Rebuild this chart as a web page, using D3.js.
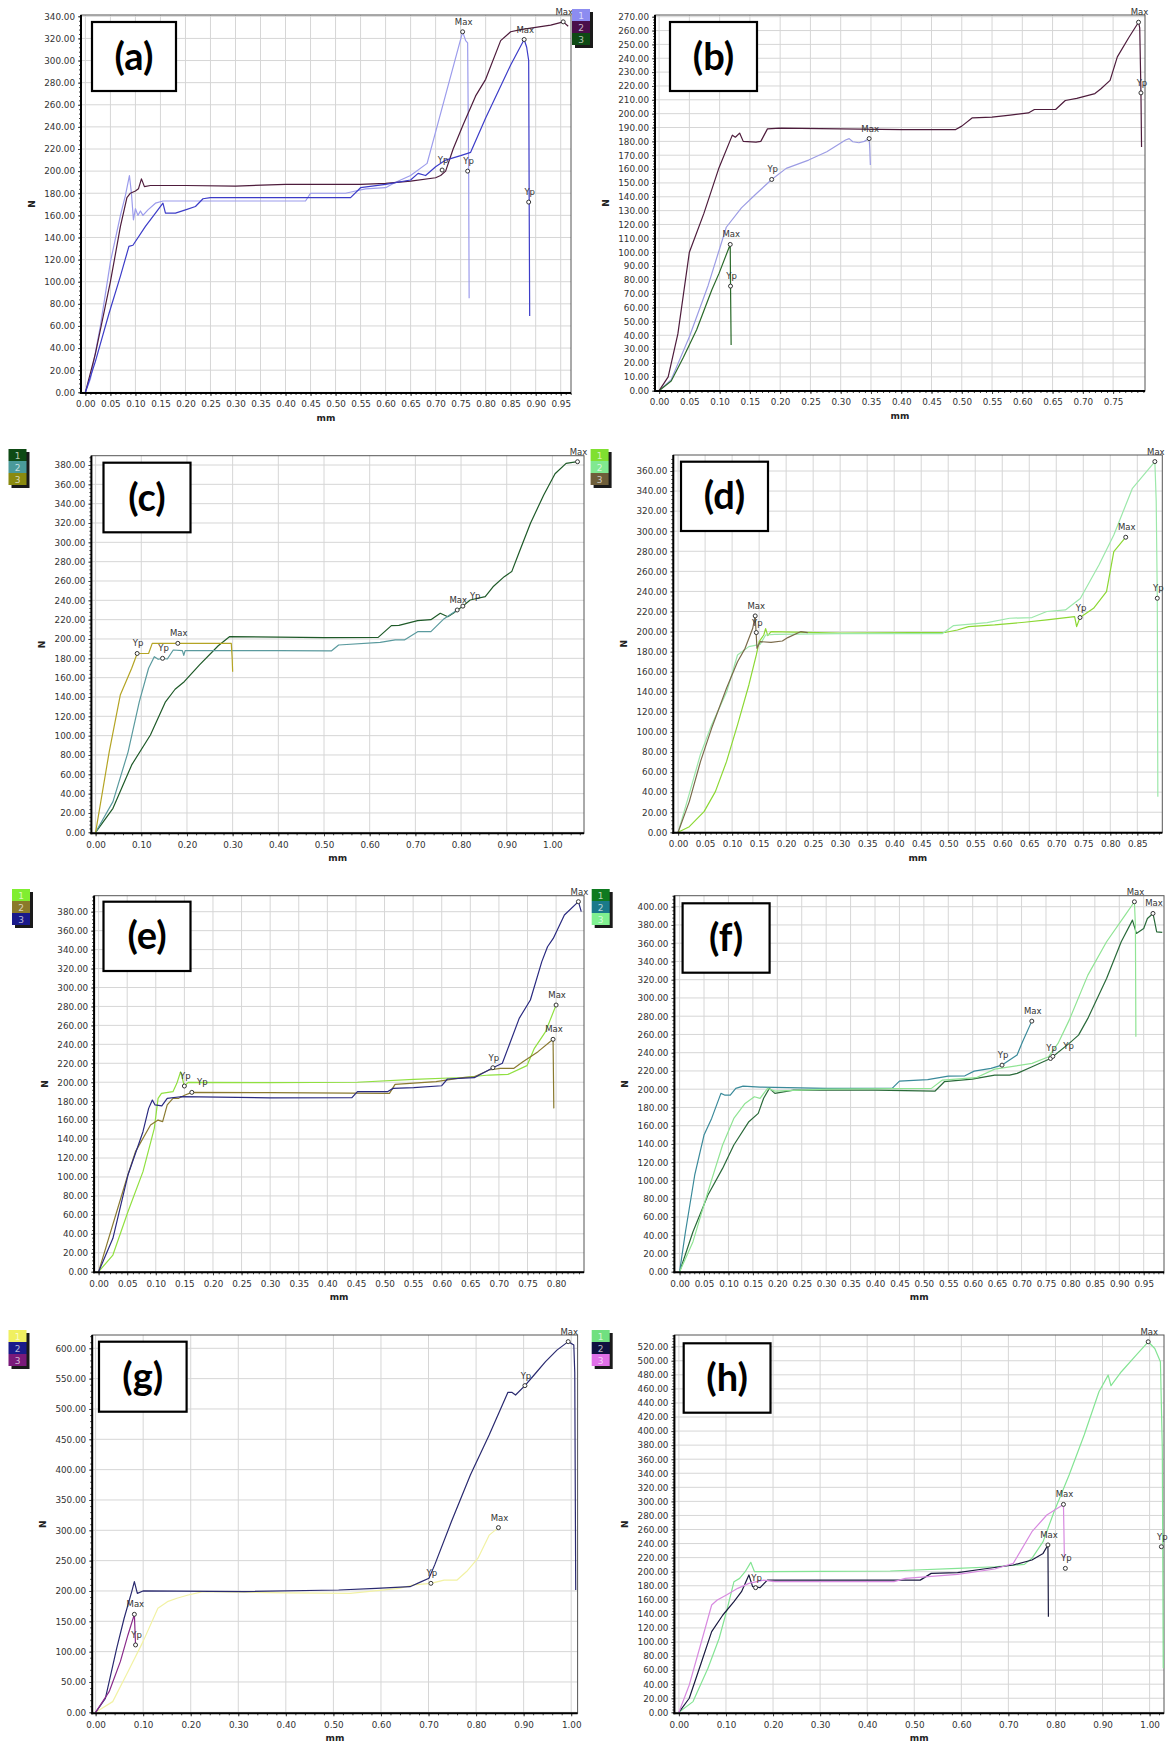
<!DOCTYPE html>
<html>
<head>
<meta charset="utf-8">
<script src="https://cdnjs.cloudflare.com/ajax/libs/d3/7.8.5/d3.min.js"></script>
<style>
  body { margin: 0; background: #fff; }
  svg text { font-family: "DejaVu Sans", Verdana, sans-serif; }
</style>
</head>
<body>
<script>
// ---- curve data: [mm, N] ----
// (a)
var a1 = [[0,0],[0.01,12],[0.03,60],[0.05,118],[0.07,160],[0.08,178],[0.088,196],[0.092,180],[0.096,156],[0.1,166],[0.105,160],[0.11,164],[0.115,160],[0.125,165],[0.14,171],[0.155,173],[0.2,173],[0.3,173],[0.44,173],[0.45,180],[0.52,180],[0.54,182],[0.56,184],[0.6,185],[0.62,190],[0.65,196],[0.683,207],[0.717,264],[0.754,326],[0.76,318],[0.764,316],[0.766,200],[0.767,85]];
var a2 = [[0,0],[0.02,35],[0.05,100],[0.07,150],[0.083,176],[0.09,180],[0.1,182],[0.106,184],[0.112,193],[0.118,186],[0.13,187],[0.2,187],[0.3,186.5],[0.4,188],[0.5,188],[0.55,188],[0.6,189],[0.65,191],[0.7,194],[0.71,196],[0.72,200],[0.735,220],[0.755,242],[0.78,268],[0.8,283],[0.83,318],[0.85,326],[0.87,328],[0.9,330],[0.93,332],[0.955,335],[0.965,331]];
var a3 = [[0,0],[0.02,28],[0.047,71],[0.07,105],[0.087,132],[0.095,133],[0.12,150],[0.14,162],[0.155,171],[0.16,162],[0.18,162],[0.2,165],[0.22,168],[0.235,175],[0.25,176],[0.4,176],[0.53,176],[0.55,185],[0.6,188],[0.65,192],[0.665,198],[0.68,196],[0.7,204],[0.72,210],[0.75,214],[0.77,217],[0.8,248],[0.85,296],[0.877,319],[0.882,312],[0.886,300],[0.887,172],[0.888,69]];
var aMarks = [[0.754,326,"Max"],[0.713,201,"Yp"],[0.764,200,"Yp"],[0.877,319,"Max"],[0.886,172,"Yp"],[0.955,335,"Max"]];

// (b)
var b1 = [[0,0],[0.02,8],[0.05,39],[0.081,76],[0.111,118],[0.136,132],[0.16,142],[0.186,152.5],[0.21,160.5],[0.247,166.5],[0.277,172.5],[0.308,181],[0.314,182],[0.32,179.7],[0.33,179],[0.339,180],[0.347,182],[0.348,175],[0.349,163]];
var b2 = [[0,0],[0.015,10],[0.031,41],[0.05,100],[0.074,128],[0.099,161],[0.121,184.5],[0.126,183],[0.133,186],[0.139,180],[0.16,179.5],[0.168,180],[0.179,189],[0.2,189.5],[0.3,189],[0.4,188.5],[0.49,188.5],[0.5,191],[0.5175,197],[0.55,197.5],[0.58,199],[0.61,200.5],[0.62,203],[0.655,203],[0.671,209.5],[0.69,211],[0.72,214.5],[0.73,218],[0.745,224],[0.757,241],[0.776,255],[0.792,266],[0.794,262],[0.796,215],[0.797,176]];
var b3 = [[0,0],[0.02,7],[0.04,24],[0.062,44],[0.087,72.7],[0.099,84.7],[0.1175,105.6],[0.118,75.5],[0.119,33]];
var bMarks = [[0.1175,105.6,"Max"],[0.118,75.5,"Yp"],[0.186,152.5,"Yp"],[0.347,182,"Max"],[0.792,266,"Max"],[0.796,215,"Yp"]];

// (c)
var c1 = [[0,0],[0.038,24.8],[0.079,69.7],[0.12,100.7],[0.153,135],[0.174,148],[0.194,155.8],[0.227,173],[0.2685,193],[0.293,202.4],[0.4,202],[0.5,201.5],[0.6186,201.7],[0.6475,213.8],[0.664,214],[0.705,219],[0.734,220],[0.7545,226.6],[0.771,223],[0.783,226.6],[0.804,234],[0.82,240.3],[0.853,243.8],[0.87,254],[0.8946,264.5],[0.911,269.7],[0.9275,290],[0.952,319.7],[0.981,349],[1.0058,371],[1.03,381.7],[1.055,383.4]];
var c2 = [[0,0],[0.038,31.7],[0.071,83],[0.0956,135],[0.116,169.7],[0.1285,181.7],[0.137,179],[0.1466,180],[0.157,179.3],[0.17,188.6],[0.19,188],[0.193,183],[0.196,188],[0.3,188],[0.4,188],[0.516,187.6],[0.532,193.8],[0.623,196.5],[0.656,199],[0.676,199],[0.705,207.6],[0.734,207.6],[0.763,221],[0.7916,230]];
var c3 = [[0,0],[0.0297,83],[0.054,142],[0.079,169.7],[0.091,185],[0.116,185],[0.124,195.5],[0.2,195.5],[0.297,195.5],[0.299,180],[0.3,166]];
var cMarks = [[0.091,185,"Yp"],[0.1466,180,"Yp"],[0.18,195.5,"Max"],[0.7916,230,"Max"],[0.804,234,"Yp"],[1.055,383.4,"Max"]];

// (d)
var d1 = [[0,0],[0.0207,5.6],[0.048,20.6],[0.069,40.5],[0.0896,70.4],[0.11,107],[0.131,146.8],[0.1448,176.7],[0.15,190],[0.1586,196.6],[0.162,203],[0.166,196],[0.172,200],[0.3,198.5],[0.496,199.3],[0.517,201.6],[0.5377,205],[0.586,206.6],[0.641,209.3],[0.6825,211.6],[0.734,214.9],[0.7377,205],[0.744,214],[0.769,223.2],[0.793,239.8],[0.8065,279.7],[0.8286,294]];
var d2 = [[0,0],[0.02,37],[0.041,77],[0.062,107],[0.09,140],[0.11,176.7],[0.131,185],[0.152,187.3],[0.162,196.6],[0.179,197.3],[0.3,198],[0.4894,198],[0.51,206],[0.572,209],[0.6135,213.3],[0.655,214],[0.6825,220],[0.717,221.6],[0.7445,233],[0.779,266.4],[0.8065,296.3],[0.841,342.8],[0.8825,369.4],[0.885,330],[0.887,233],[0.888,35.5]];
var d3s = [[0,0],[0.0207,30.6],[0.0414,70.4],[0.062,103.6],[0.0896,143.5],[0.11,170],[0.124,183.3],[0.138,203],[0.1427,215.6],[0.146,183.3],[0.152,190],[0.172,189.3],[0.193,190.6],[0.203,194],[0.2275,200],[0.24,199]];
var dMarks = [[0.1427,215.6,"Max"],[0.1448,199,"Yp"],[0.744,214,"Yp"],[0.8286,294,"Max"],[0.8825,369.4,"Max"],[0.887,233.2,"Yp"]];

// (e)
var e1 = [[0,0],[0.025,17.6],[0.0513,63.3],[0.0776,105.6],[0.0974,151.3],[0.104,183],[0.11,188.2],[0.13,190],[0.1368,198.8],[0.1434,211],[0.15,196],[0.1566,199.9],[0.3,199.5],[0.4526,200],[0.551,203],[0.637,205],[0.683,207.6],[0.7158,208.3],[0.749,217.5],[0.762,235.8],[0.7816,253.4],[0.8,281.5]];
var e2 = [[0,0],[0.05,100],[0.0645,126.7],[0.0908,154.8],[0.104,160],[0.112,158.4],[0.12,176],[0.13,183],[0.14,183],[0.1513,186.5],[0.163,189.3],[0.3,189],[0.5086,188.2],[0.5184,197.7],[0.59,200.6],[0.637,204.8],[0.657,205.8],[0.683,212.9],[0.7026,214.6],[0.7257,214.6],[0.742,221.7],[0.7684,232.3],[0.7947,245.3],[0.796,172.4]];
var e3 = [[0,0],[0.025,35.2],[0.0513,102],[0.0776,147.8],[0.0875,172.4],[0.094,181.2],[0.0987,176],[0.1105,175],[0.12,183],[0.143,184.7],[0.3,183.5],[0.443,183.7],[0.4526,190],[0.505,190],[0.515,193.5],[0.551,194.2],[0.6,196.3],[0.61,203.4],[0.657,204.8],[0.6895,215.3],[0.706,220],[0.7355,267.4],[0.755,286.8],[0.775,327.3],[0.785,343],[0.795,351.8],[0.8145,376.5],[0.839,390.6],[0.844,380]];
var eMarks = [[0.15,196,"Yp"],[0.163,189.3,"Yp"],[0.6895,215.3,"Yp"],[0.7947,245.3,"Max"],[0.8,281.5,"Max"],[0.839,390.6,"Max"]];

// (f)
var f1 = [[0,0],[0.0274,43.8],[0.058,84],[0.088,113.2],[0.111,138.8],[0.1418,164.4],[0.161,173.5],[0.172,190],[0.1837,200.9],[0.195,195.4],[0.2333,199],[0.4,199],[0.523,198],[0.542,208.2],[0.599,211.1],[0.645,215.5],[0.6755,215.5],[0.691,217.3],[0.7215,224.6],[0.7593,233.7],[0.7975,250.2],[0.8166,259.3],[0.8357,277.6],[0.874,321.4],[0.904,361.6],[0.927,385.3],[0.935,370.7],[0.95,376.2],[0.9576,387.1],[0.969,392.6],[0.9766,372.5],[0.988,371.8]];
var f2 = [[0,0],[0.012,43.8],[0.031,106],[0.05,149.7],[0.0656,168],[0.0846,195.4],[0.092,193.6],[0.1037,193.6],[0.115,200.9],[0.13,203.4],[0.1647,202.3],[0.3,201],[0.435,200.9],[0.45,208.9],[0.5078,210.4],[0.55,214.4],[0.584,214.7],[0.603,219.8],[0.6374,222.8],[0.66,226.4],[0.6908,237.4],[0.702,252],[0.721,274.6]];
var f3 = [[0,0],[0.0274,32.9],[0.058,87.7],[0.088,138.8],[0.111,168],[0.134,184.4],[0.153,191.7],[0.1647,189.9],[0.18,200.9],[0.195,197.9],[0.3,200],[0.5155,200.9],[0.538,210],[0.607,212.6],[0.645,222],[0.7215,228.3],[0.7555,235.6],[0.7746,250.2],[0.7975,275.7],[0.8357,325],[0.874,361.6],[0.912,390.8],[0.931,405.4],[0.933,380],[0.934,257.5]];
var fMarks = [[0.66,226.4,"Yp"],[0.721,274.6,"Max"],[0.7593,233.7,"Yp"],[0.764,236,"Yp"],[0.931,405.4,"Max"],[0.969,392.6,"Max"]];

// (g)
var g1 = [[0,0],[0.036,17.6],[0.068,67],[0.0997,116.5],[0.131,171.4],[0.151,182.4],[0.171,188],[0.1946,193.4],[0.226,199],[0.4,197],[0.535,196],[0.6377,204.4],[0.669,210],[0.705,212.6],[0.7326,218],[0.76,218],[0.78,232],[0.804,254],[0.8275,292],[0.847,304.4]];
var g2 = [[0,0],[0.0206,23],[0.0443,105.5],[0.06,155],[0.076,199],[0.0815,215.4],[0.0878,196],[0.0997,200],[0.313,199],[0.511,201.6],[0.59,204.4],[0.661,207],[0.685,215.4],[0.701,221],[0.713,243],[0.748,314],[0.788,391],[0.8275,457],[0.867,527.5],[0.875,527.5],[0.883,523],[0.9027,538.5],[0.922,556],[0.946,578],[0.97,597],[0.9937,611],[1.0055,605.5],[1.0075,560],[1.0095,201.6]];
var g3 = [[0,0],[0.0285,34],[0.052,83.5],[0.068,127.5],[0.0815,161.5],[0.084,111]];
var gMarks = [[0.0815,161.5,"Max"],[0.084,111,"Yp"],[0.705,212.6,"Yp"],[0.847,304.4,"Max"],[0.9027,538.5,"Yp"],[0.9937,611,"Max"]];

// (h)
var h1 = [[0,0],[0.03,15.2],[0.0617,62.6],[0.0854,105],[0.101,143],[0.117,185.8],[0.129,190.5],[0.1408,200],[0.1527,213.3],[0.1606,200],[0.3,200.5],[0.449,201],[0.592,204.7],[0.671,207],[0.734,210.4],[0.75,219],[0.7737,242.7],[0.797,285.3],[0.829,337.5],[0.861,394.4],[0.8924,456],[0.912,479.6],[0.918,464.5],[0.94,484.4],[0.9715,508],[0.997,527],[1.011,517.5],[1.023,498.6],[1.027,375],[1.029,62.6]];
var h2 = [[0,0],[0.022,20],[0.0459,67.3],[0.0696,114.7],[0.0934,138.4],[0.117,157.3],[0.133,171.6],[0.1487,195.3],[0.1566,178.7],[0.1725,177.3],[0.188,188],[0.3,188],[0.5127,188],[0.536,197.6],[0.592,198.6],[0.647,203.8],[0.7104,209.5],[0.75,216.6],[0.7737,226],[0.784,238],[0.785,136]];
var h3 = [[0,0],[0.022,38.9],[0.0459,95.7],[0.0696,152.6],[0.0815,159.7],[0.101,166.8],[0.125,176.3],[0.1487,183.4],[0.18,188],[0.204,185.8],[0.457,185.8],[0.481,190.5],[0.592,196.2],[0.671,203.8],[0.7104,211.8],[0.75,256.9],[0.7816,280.6],[0.817,295.7],[0.819,219]];
var hMarks = [[0.163,177.3,"Yp"],[0.784,238,"Max"],[0.817,295.7,"Max"],[0.821,204.7,"Yp"],[0.997,527,"Max"],[1.025,235.5,"Yp"]];

// ---- tick values ----
var xTicks05 = d3.range(0, 20).map(function(i) { return i * 0.05; });
var xTicks10 = d3.range(0, 11).map(function(i) { return i * 0.1; });
function yTicksUpTo(max, step) {
  return d3.range(0, Math.round(max / step) + 1).map(function(i) { return i * step; });
}
function upTo(ticks, max) {
  return ticks.filter(function(d) { return d <= max + 0.001; });
}

// ---- panel layout ----
var panels = [
  {tag: "(a)", box: [81, 15, 571, 393], xr: [85.4, 560.7], xMax: 0.95, xTicks: upTo(xTicks05, 0.95), xStep: 0.05,
   yr: [392.3, 16.3], yMax: 340, yTicks: yTicksUpTo(340, 20), yStep: 20,
   series: [a1, a2, a3], colors: ["#9c9cec", "#4e1c3c", "#3c3cc8"], marks: aMarks,
   tagBox: [92, 22, 84, 69], legend: [572, 9], legendColors: ["#8c8cf0", "#4a0e4a", "#0e4a14"]},
  {tag: "(b)", box: [655, 15, 1145, 391], xr: [659.1, 1113.1], xMax: 0.75, xTicks: upTo(xTicks05, 0.75), xStep: 0.05,
   yr: [390.7, 16.7], yMax: 270, yTicks: yTicksUpTo(270, 10), yStep: 10,
   series: [b1, b2, b3], colors: ["#9c9ce4", "#4e1c3c", "#2a6a2a"], marks: bMarks,
   tagBox: [670, 22, 87, 69], legend: null},
  {tag: "(c)", box: [91.4, 455.7, 584, 833.3], xr: [95.6, 552.4], xMax: 1.0, xTicks: xTicks10, xStep: 0.1,
   yr: [832.3, 465], yMax: 380, yTicks: yTicksUpTo(380, 20), yStep: 20,
   series: [c1, c2, c3], colors: ["#1e5a28", "#5a9a9e", "#b4a424"], marks: cMarks,
   tagBox: [103.5, 462.7, 87, 69.6], legend: [8.5, 449], legendColors: ["#0e4a14", "#4a9a9a", "#8a8a10"]},
  {tag: "(d)", box: [673.3, 455, 1162.3, 832.7], xr: [678.1, 1137.3], xMax: 0.85, xTicks: upTo(xTicks05, 0.85), xStep: 0.05,
   yr: [832.3, 471], yMax: 360, yTicks: yTicksUpTo(360, 20), yStep: 20,
   series: [d1, d2, d3s], colors: ["#8cd834", "#9ce8aa", "#7a6a4a"], marks: dMarks,
   tagBox: [681, 461.7, 87, 69.3], legend: [590.6, 449], legendColors: ["#80e030", "#80e890", "#6e5e3a"]},
  {tag: "(e)", box: [94.1, 895.7, 584, 1272.3], xr: [98.6, 556.1], xMax: 0.8, xTicks: upTo(xTicks05, 0.8), xStep: 0.05,
   yr: [1271.7, 911.7], yMax: 380, yTicks: yTicksUpTo(380, 20), yStep: 20,
   series: [e1, e2, e3], colors: ["#90e040", "#8a7a30", "#2a2a80"], marks: eMarks,
   tagBox: [103.5, 901.7, 87, 69.3], legend: [12, 889], legendColors: ["#80ee30", "#8a7a2a", "#1a1a8a"]},
  {tag: "(f)", box: [674.4, 895.7, 1164, 1272.3], xr: [679.6, 1143.7], xMax: 0.95, xTicks: upTo(xTicks05, 0.95), xStep: 0.05,
   yr: [1271.7, 906.7], yMax: 400, yTicks: yTicksUpTo(400, 20), yStep: 20,
   series: [f1, f2, f3], colors: ["#2a6a3a", "#3a8a9a", "#90e494"], marks: fMarks,
   tagBox: [682.6, 903.3, 87, 69.4], legend: [591.7, 889], legendColors: ["#0e7a20", "#1a7a8a", "#80f090"]},
  {tag: "(g)", box: [92.2, 1335, 577.6, 1713.3], xr: [95.6, 571.2], xMax: 1.0, xTicks: xTicks10, xStep: 0.1,
   yr: [1712.3, 1348.3], yMax: 600, yTicks: yTicksUpTo(600, 50), yStep: 50,
   series: [g1, g2, g3], colors: ["#f2f2a4", "#2a2a70", "#8a2a8a"], marks: gMarks,
   tagBox: [99, 1341.7, 87.6, 70], legend: [8.5, 1330], legendColors: ["#f0f060", "#1a1a8a", "#7a1a7a"]},
  {tag: "(h)", box: [674.4, 1335, 1164, 1713.3], xr: [678.9, 1149.6], xMax: 1.0, xTicks: xTicks10, xStep: 0.1,
   yr: [1712.3, 1346.7], yMax: 520, yTicks: yTicksUpTo(520, 20), yStep: 20,
   series: [h1, h2, h3], colors: ["#84e494", "#1a1a40", "#d88ae0"], marks: hMarks,
   tagBox: [683.7, 1343.3, 86.8, 69.4], legend: [591.7, 1330], legendColors: ["#70e080", "#101040", "#e070e8"]}
];

var fmt = d3.format(".2f");

var svg = d3.select("body").append("svg")
    .attr("width", 1169)
    .attr("height", 1743);

svg.append("rect").attr("width", 1169).attr("height", 1743).attr("fill", "#fff");

panels.forEach(function(p, pi) {
  var L = p.box[0], T = p.box[1], R = p.box[2], B = p.box[3];
  var g = svg.append("g");

  var xScale = d3.scaleLinear().domain([0, p.xMax]).range(p.xr);
  var yScale = d3.scaleLinear().domain([0, p.yMax]).range(p.yr);

  // minor ticks up to the frame edge
  var xEnd = xScale.invert(R), yEnd = yScale.invert(T);
  var xMinor = d3.range(0, Math.floor(xEnd / (p.xStep / 5)) + 1).map(function(i) { return i * p.xStep / 5; });
  var yMinor = d3.range(0, Math.floor(yEnd / (p.yStep / 5)) + 1).map(function(i) { return i * p.yStep / 5; });

  // grid
  g.selectAll(".vg").data(p.xTicks).enter().append("line")
    .attr("x1", function(d) { return xScale(d); }).attr("x2", function(d) { return xScale(d); })
    .attr("y1", T).attr("y2", B)
    .attr("stroke", "#d6d6d6").attr("stroke-width", 1);
  g.selectAll(".hg").data(p.yTicks).enter().append("line")
    .attr("x1", L).attr("x2", R)
    .attr("y1", function(d) { return yScale(d); }).attr("y2", function(d) { return yScale(d); })
    .attr("stroke", "#d6d6d6").attr("stroke-width", 1);

  // frame
  g.append("rect")
    .attr("x", L).attr("y", T).attr("width", R - L).attr("height", B - T)
    .attr("fill", "none").attr("stroke", "#555").attr("stroke-width", 1);

  // curves
  var clipId = "clip" + pi;
  g.append("clipPath").attr("id", clipId).append("rect")
    .attr("x", L).attr("y", T - 2).attr("width", R - L).attr("height", B - T + 2);

  var valueline = d3.line()
    .x(function(d) { return xScale(d[0]); })
    .y(function(d) { return yScale(d[1]); });

  p.series.forEach(function(s, si) {
    g.append("path")
      .attr("d", valueline(s))
      .attr("fill", "none")
      .attr("stroke", p.colors[si])
      .attr("stroke-width", 1.2)
      .attr("stroke-linejoin", "round")
      .attr("clip-path", "url(#" + clipId + ")");
  });

  // axes
  var yAxis = g.append("g").attr("transform", "translate(" + L + ",0)")
    .call(d3.axisLeft(yScale).tickValues(p.yTicks).tickFormat(fmt).tickSize(3).tickPadding(3));
  var yMinorAxis = g.append("g").attr("transform", "translate(" + L + ",0)")
    .call(d3.axisLeft(yScale).tickValues(yMinor).tickFormat("").tickSize(2));
  var xAxis = g.append("g").attr("transform", "translate(0," + B + ")")
    .call(d3.axisBottom(xScale).tickValues(p.xTicks).tickFormat(fmt).tickSize(3).tickPadding(5));
  var xMinorAxis = g.append("g").attr("transform", "translate(0," + B + ")")
    .call(d3.axisBottom(xScale).tickValues(xMinor).tickFormat("").tickSize(2));

  [yAxis, yMinorAxis, xAxis, xMinorAxis].forEach(function(ax) {
    ax.select(".domain").remove();
    ax.selectAll("line").attr("stroke", "#444");
    ax.selectAll("text")
      .attr("fill", "#333")
      .style("font-family", "'DejaVu Sans', Verdana, sans-serif")
      .style("font-size", "8.8px");
  });

  g.append("line").attr("x1", L).attr("x2", L).attr("y1", T).attr("y2", B + 1)
    .attr("stroke", "#000").attr("stroke-width", 2);
  g.append("line").attr("x1", L - 1).attr("x2", R).attr("y1", B).attr("y2", B)
    .attr("stroke", "#000").attr("stroke-width", 2);

  // axis titles
  g.append("text")
    .attr("x", (L + R) / 2).attr("y", B + 28)
    .attr("text-anchor", "middle")
    .style("font-size", "9px").style("font-weight", "bold").attr("fill", "#222")
    .text("mm");
  g.append("text")
    .attr("transform", "translate(" + (L - 46) + "," + ((T + B) / 2) + ") rotate(-90)")
    .attr("text-anchor", "middle")
    .style("font-size", "9px").style("font-weight", "bold").attr("fill", "#222")
    .text("N");

  // markers + labels, keep near-coincident labels from stacking on each other
  var mk = g.append("g");
  var placed = [];
  p.marks.forEach(function(m) {
    var mx = xScale(m[0]), my = yScale(m[1]);
    mk.append("circle")
      .attr("cx", mx).attr("cy", my).attr("r", 2)
      .attr("fill", "#fff").attr("stroke", "#333").attr("stroke-width", 1);
    var tx = mx + 1, ty = my - 7;
    placed.forEach(function(q) {
      if (Math.abs(q[0] - tx) < 16 && Math.abs(q[1] - ty) < 8) {
        tx = q[0] + (tx >= q[0] ? 17 : -17);
      }
    });
    placed.push([tx, ty]);
    mk.append("text")
      .attr("x", tx).attr("y", ty)
      .attr("text-anchor", "middle")
      .style("font-size", "8.5px").attr("fill", "#333")
      .text(m[2]);
  });

  // panel tag box
  var tb = p.tagBox;
  g.append("rect")
    .attr("x", tb[0]).attr("y", tb[1]).attr("width", tb[2]).attr("height", tb[3])
    .attr("fill", "#fff").attr("stroke", "#000").attr("stroke-width", 2.2);
  g.append("text")
    .attr("x", tb[0] + tb[2] / 2).attr("y", tb[1] + tb[3] / 2 + 13)
    .attr("text-anchor", "middle")
    .style("font-family", "Lato, 'Open Sans', sans-serif")
    .style("font-size", "38px").style("font-weight", "bold").attr("fill", "#000")
    .text(p.tag);

  // legend
  if (p.legend) {
    var lx = p.legend[0], ly = p.legend[1];
    g.append("rect").attr("x", lx + 3).attr("y", ly + 3).attr("width", 18).attr("height", 36).attr("fill", "#1a1a1a");
    p.legendColors.forEach(function(c, i) {
      g.append("rect").attr("x", lx).attr("y", ly + i * 12).attr("width", 18).attr("height", 12).attr("fill", c);
      g.append("text")
        .attr("x", lx + 9).attr("y", ly + i * 12 + 9.5)
        .attr("text-anchor", "middle")
        .style("font-size", "9px").attr("fill", "#fff").attr("fill-opacity", 0.7)
        .text(i + 1);
    });
  }
});
</script>
</body>
</html>
